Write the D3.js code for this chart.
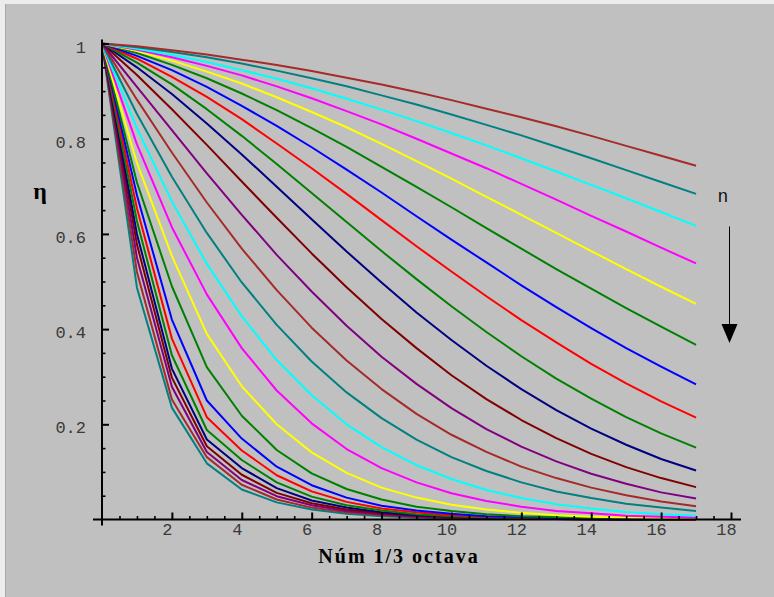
<!DOCTYPE html>
<html><head><meta charset="utf-8">
<script src="https://cdn.jsdelivr.net/npm/d3@7"></script>
<style>
html,body{margin:0;padding:0;background:#c0c0c0;}
svg{display:block;}
</style></head>
<body>
<script>
const xValues = [0,1,2,3,4,5,6,7,8,9,10,11,12,13,14,15,16,17];
const xTickValues = [2,4,6,8,10,12,14,16,18];
const yTickValues = [0.2,0.4,0.6,0.8,1];
const eta01 = [1,.994,.986,.977,.966,.955,.942,.928,.914,.898,.881,.863,.845,.826,.806,.785,.764,.743];
const eta02 = [1,.992,.982,.971,.958,.943,.927,.910,.891,.872,.851,.829,.807,.783,.759,.734,.709,.684];
const eta03 = [1,.989,.976,.961,.944,.926,.906,.884,.861,.837,.812,.786,.759,.731,.703,.675,.646,.617];
const eta04 = [1,.987,.971,.953,.933,.910,.885,.858,.830,.800,.769,.738,.705,.672,.638,.605,.571,.538];
const eta05 = [1,.984,.964,.941,.916,.887,.856,.824,.789,.753,.716,.678,.640,.602,.564,.526,.489,.453];
const eta06 = [1,.980,.955,.927,.895,.860,.822,.783,.741,.699,.656,.612,.569,.526,.485,.444,.405,.367];
const eta07 = [1,.974,.944,.909,.869,.827,.782,.735,.687,.637,.588,.540,.492,.446,.402,.360,.321,.284];
const eta08 = [1,.968,.930,.888,.841,.790,.738,.684,.629,.574,.521,.469,.419,.372,.327,.286,.248,.214];
const eta09 = [1,.960,.914,.862,.806,.747,.686,.625,.564,.505,.448,.394,.343,.296,.254,.215,.181,.151];
const eta10 = [1,.950,.894,.832,.767,.699,.631,.563,.498,.435,.377,.323,.274,.230,.191,.157,.127,.103];
const eta11 = [1,.934,.862,.787,.710,.634,.559,.488,.421,.360,.303,.253,.209,.171,.138,.110,.087,.068];
const eta12 = [1,.909,.818,.727,.640,.556,.479,.407,.342,.285,.234,.190,.153,.122,.096,.075,.057,.044];
const eta13 = [1,.882,.771,.666,.569,.482,.403,.334,.274,.222,.178,.142,.111,.087,.067,.051,.038,.028];
const eta14 = [1,.852,.720,.602,.498,.409,.332,.267,.213,.168,.131,.102,.078,.059,.045,.033,.025,.018];
const eta15 = [1,.822,.668,.537,.427,.335,.261,.200,.152,.114,.085,.062,.045,.032,.023,.016,.011,.008];
const eta16 = [1,.788,.614,.473,.360,.271,.202,.148,.108,.078,.055,.039,.027,.018,.013,.008,.006,.004];
const eta17 = [1,.749,.554,.390,.280,.200,.141,.098,.067,.046,.031,.021,.014,.009,.006,.004,.003,.002];
const eta18 = [1,.708,.490,.320,.218,.146,.097,.064,.042,.027,.018,.011,.007,.005,.003,.002,.001,.001];
const eta19 = [1,.681,.420,.250,.170,.111,.072,.046,.029,.019,.012,.007,.005,.003,.002,.001,.001,.001];
const eta20 = [1,.654,.380,.215,.145,.093,.059,.037,.023,.015,.009,.006,.004,.002,.001,.001,.001,0];
const eta21 = [1,.627,.345,.188,.125,.078,.048,.030,.019,.011,.007,.004,.003,.002,.001,.001,0,0];
const eta22 = [1,.600,.317,.168,.108,.066,.040,.025,.015,.009,.006,.003,.002,.001,.001,0,0,0];
const eta23 = [1,.578,.298,.154,.094,.056,.034,.021,.013,.008,.005,.003,.002,.001,.001,0,0,0];
const eta24 = [1,.550,.279,.142,.083,.049,.030,.018,.011,.006,.004,.002,.001,.001,0,0,0,0];
const eta25 = [1,.520,.252,.131,.073,.042,.025,.015,.009,.005,.003,.002,.001,.001,0,0,0,0];
const eta26 = [1,.487,.235,.118,.063,.036,.021,.012,.007,.004,.003,.002,.001,.001,0,0,0,0];
const seriesList = [eta01,eta02,eta03,eta04,eta05,eta06,eta07,eta08,eta09,eta10,eta11,eta12,eta13,
  eta14,eta15,eta16,eta17,eta18,eta19,eta20,eta21,eta22,eta23,eta24,eta25,eta26];
const palette = ["#A52A2A","#008080","#00FFFF","#FF00FF","#FFFF00","#008000","#0000FF","#FF0000","#008000","#000080","#800000","#800080"];
const xTitle = "Núm 1/3 octava";
const yTitle = "η";
const arrowLabel = "n";

const W = 774, H = 597;
const svg = d3.select("body").append("svg").attr("width", W).attr("height", H);
svg.append("rect").attr("width", W).attr("height", H).attr("fill", "#c0c0c0");
svg.append("rect").attr("x",0).attr("y",0).attr("width",W).attr("height",4).attr("fill","#ececec");
svg.append("rect").attr("x",0).attr("y",0).attr("width",5).attr("height",H).attr("fill","#ececec");
svg.append("line").attr("x1",5.5).attr("x2",5.5).attr("y1",4).attr("y2",H).attr("stroke","#a8a8a8").attr("stroke-width",1);

const x = d3.scaleLinear().domain([0,18]).range([102,731]);
const y = d3.scaleLinear().domain([0,1]).range([519.5,43.5]);

const monoFont = "'Liberation Mono','DejaVu Sans Mono',monospace";
const serifFont = "'Liberation Serif','Times New Roman',serif";

// curves
const line = d3.line().x((d,i)=>x(xValues[i])).y(d=>y(d));
const gLines = svg.append("g").attr("fill","none").attr("stroke-width",2).attr("stroke-linejoin","round");
seriesList.slice().reverse().forEach((s,ri)=>{
  const i = seriesList.length-1-ri;
  gLines.append("path").attr("d", line(s)).attr("stroke", palette[i % palette.length]);
});

// x axis
const xMinor = d3.range(0.5, 18.01, 0.5).filter(v=>Math.abs(v%2)>1e-9);
const gxMinor = svg.append("g").attr("transform",`translate(0,${y(0)})`)
  .call(d3.axisBottom(x).tickValues(xMinor).tickSize(-3.5).tickFormat(""));
const gx = svg.append("g").attr("transform",`translate(0,${y(0)})`)
  .call(d3.axisBottom(x).tickValues(xTickValues).tickSize(-7).tickPadding(3).tickFormat(d3.format("d")));
[gxMinor,gx].forEach(g=>{g.select(".domain").remove(); g.selectAll("line").attr("stroke","#000").attr("stroke-width",2);});
gxMinor.selectAll("line").attr("stroke-width",1.6);
gx.selectAll("text").attr("font-family",monoFont).attr("font-size",17).attr("fill","#3a3a3a").attr("dx",-5);
svg.append("line").attr("x1",x.range()[0]-9).attr("x2",x.range()[1]+10).attr("y1",y(0)).attr("y2",y(0))
  .attr("stroke","#000").attr("stroke-width",2);

// y axis
const yMinor = d3.range(0.05, 1.001, 0.05).filter(v=>Math.abs(Math.round(v*100)%20)>1e-6);
const gyMinor = svg.append("g").attr("transform",`translate(${x(0)},0)`)
  .call(d3.axisLeft(y).tickValues(yMinor).tickSize(-3.5).tickFormat(""));
const gy = svg.append("g").attr("transform",`translate(${x(0)},0)`)
  .call(d3.axisLeft(y).tickValues(yTickValues).tickSize(-7).tickPadding(16)
  .tickFormat(d=>d===1?"1":d3.format(".1f")(d)));
[gyMinor,gy].forEach(g=>{g.select(".domain").remove(); g.selectAll("line").attr("stroke","#000").attr("stroke-width",2);});
gyMinor.selectAll("line").attr("stroke-width",1.6);
gy.selectAll("text").attr("font-family",monoFont).attr("font-size",17).attr("fill","#3a3a3a").attr("dy","0.5em");
svg.append("line").attr("x1",x(0)).attr("x2",x(0)).attr("y1",y.range()[1]-4).attr("y2",y(0)+6)
  .attr("stroke","#000").attr("stroke-width",2);

// titles
svg.append("text").attr("x",399).attr("y",563)
  .attr("text-anchor","middle").attr("font-family",serifFont)
  .attr("font-weight","bold").attr("font-size",20).attr("letter-spacing",2)
  .attr("fill","#000").text(xTitle);
svg.append("text").attr("x",40).attr("y",199)
  .attr("text-anchor","middle").attr("font-family",serifFont)
  .attr("font-weight","bold").attr("font-size",24).attr("fill","#000").text(yTitle);

// n arrow
svg.append("text").attr("x",723).attr("y",202).attr("text-anchor","middle")
  .attr("font-family",monoFont).attr("font-size",18).attr("fill","#111").text(arrowLabel);
svg.append("line").attr("x1",729.5).attr("x2",729.5).attr("y1",226.5).attr("y2",326)
  .attr("stroke","#000").attr("stroke-width",1);
svg.append("path").attr("d","M721.5,324 L737.5,324 L729.5,343 Z").attr("fill","#000");
</script>
</body></html>
